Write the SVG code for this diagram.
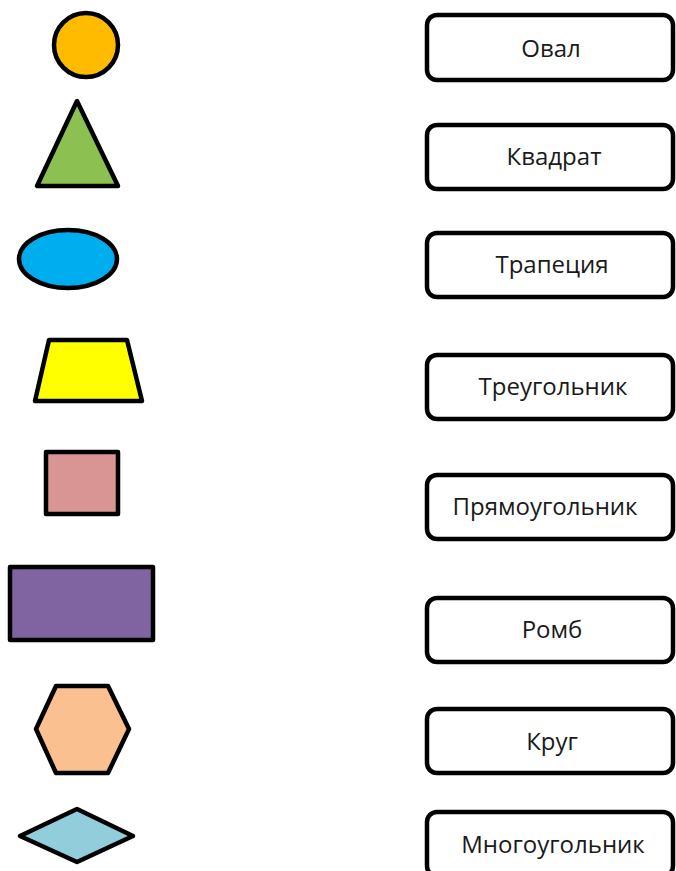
<svg xmlns="http://www.w3.org/2000/svg" width="676" height="871" viewBox="0 0 676 871">
<style>
.shape{stroke:#000;stroke-width:4.5;stroke-linejoin:round}
.box{fill:#fff;stroke:#000;stroke-width:4.5}
.lbl{font-family:"Open Sans","Noto Sans",sans-serif;font-size:24px;fill:#1a1a1a;text-anchor:middle}
</style>
<rect width="676" height="871" fill="#fff"/>
<g id="shape-circle"><circle class="shape" cx="86" cy="45" r="32" fill="#ffbb00"/></g>
<g id="shape-triangle"><polygon class="shape" points="77,101 37,186 118,186" fill="#8cc152"/></g>
<g id="shape-ellipse"><ellipse class="shape" cx="68" cy="259" rx="49" ry="29" fill="#00aeef"/></g>
<g id="shape-trapezoid"><polygon class="shape" points="49,340 127,340 142,401 35,401" fill="#ffff00"/></g>
<g id="shape-square"><rect class="shape" x="46" y="452" width="72" height="62" fill="#d99594"/></g>
<g id="shape-rectangle"><rect class="shape" x="10" y="567" width="143" height="73" fill="#8064a2"/></g>
<g id="shape-hexagon"><polygon class="shape" points="56,686 108,686 129,729 108,773 56,773 36,729" fill="#fac090"/></g>
<g id="shape-rhombus"><polygon class="shape" points="77,809 133,836 77,862 20,836" fill="#92cddc"/></g>

<g id="box-oval"><rect class="box" x="427" y="15" width="246" height="65" rx="10"/><text class="lbl" x="551" y="57">Овал</text></g>
<g id="box-kvadrat"><rect class="box" x="427" y="125" width="246" height="64" rx="10"/><text class="lbl" x="554" y="165">Квадрат</text></g>
<g id="box-trapeciya"><rect class="box" x="427" y="233" width="246" height="64" rx="10"/><text class="lbl" x="552" y="273">Трапеция</text></g>
<g id="box-treugolnik"><rect class="box" x="427" y="355" width="246" height="64" rx="10"/><text class="lbl" x="553" y="395">Треугольник</text></g>
<g id="box-pryamougolnik"><rect class="box" x="427" y="475" width="246" height="64" rx="10"/><text class="lbl" x="545" y="515">Прямоугольник</text></g>
<g id="box-romb"><rect class="box" x="427" y="598" width="246" height="64" rx="10"/><text class="lbl" x="552" y="638">Ромб</text></g>
<g id="box-krug"><rect class="box" x="427" y="709" width="246" height="64" rx="10"/><text class="lbl" x="552" y="750">Круг</text></g>
<g id="box-mnogougolnik"><rect class="box" x="427" y="812" width="246" height="64" rx="10"/><text class="lbl" x="553" y="853">Многоугольник</text></g>
<g id="connectors"/>
</svg>
